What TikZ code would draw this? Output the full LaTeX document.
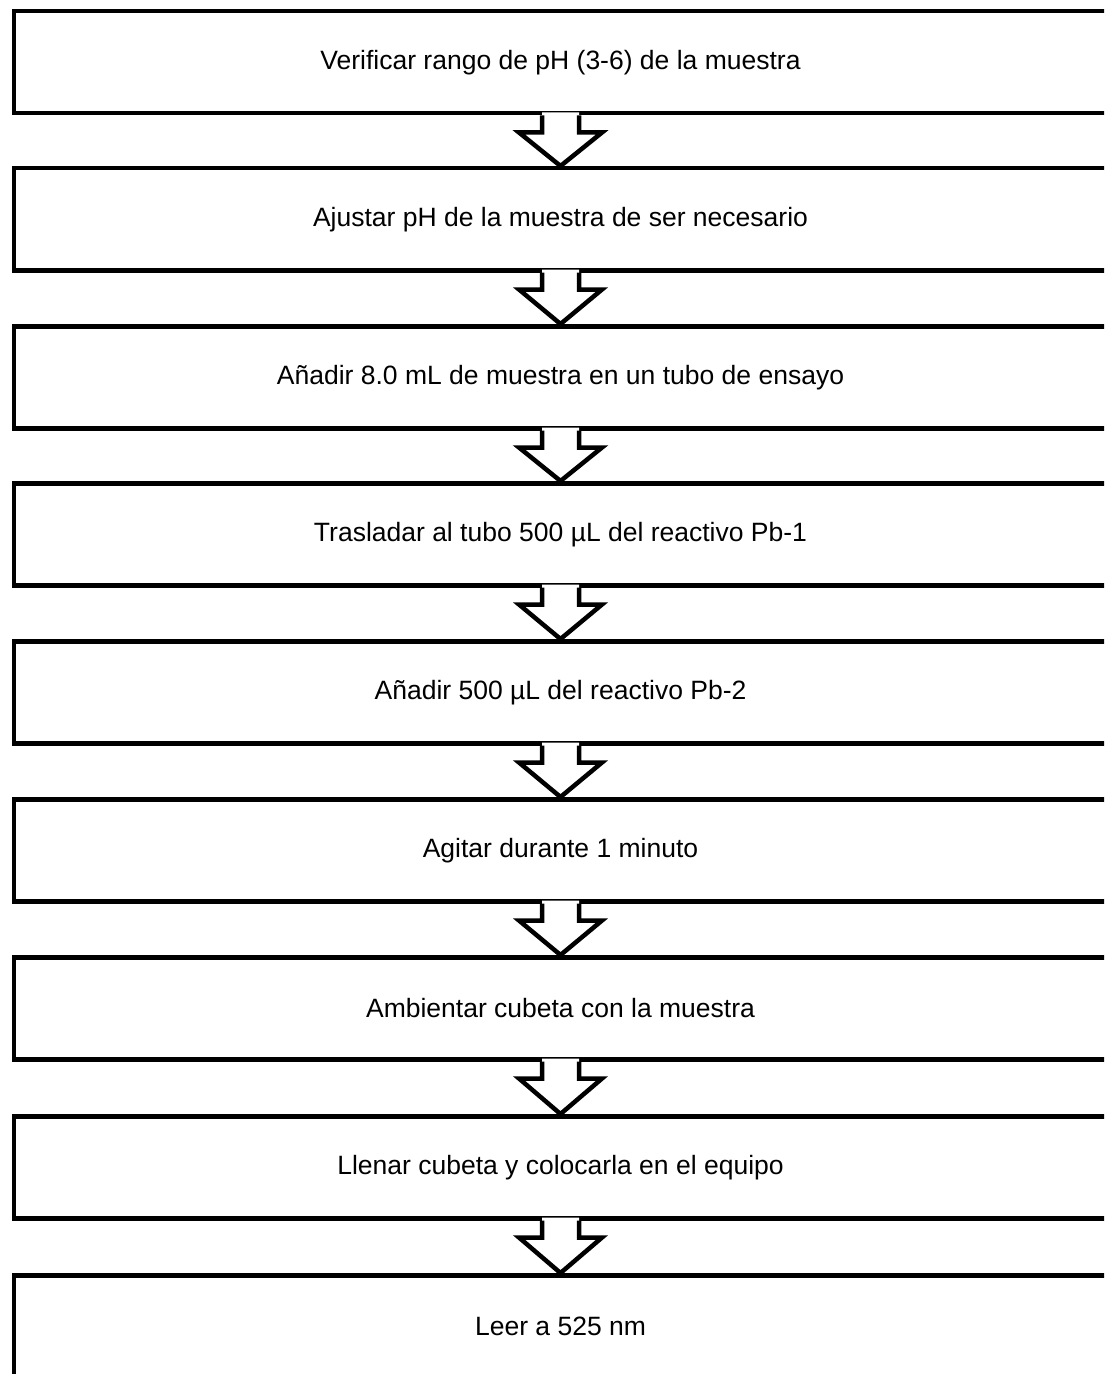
\documentclass[tikz,border=0pt]{standalone}
\usepackage{fontspec}
\setmainfont{Liberation Sans}
\usetikzlibrary{calc}
\begin{document}
\begin{tikzpicture}[x=1bp,y=-1bp,
  stepbox/.style={draw=black, line width=4.5bp, fill=white,
    minimum width=1093.5bp, minimum height=102bp, inner sep=0pt,
    anchor=north west, font=\fontsize{26.5bp}{30bp}\selectfont},
  flowline/.style={line width=4.5bp, line join=miter}]
\useasboundingbox (0,0) rectangle (1104,1374);
\clip (0,0) rectangle (1104,1374);

% process steps, top to bottom
\node[stepbox] (s1) at (11.5,9)    {Verificar rango de pH (3-6) de la muestra};
\node[stepbox] (s2) at (11.5,166)  {Ajustar pH de la muestra de ser necesario};
\node[stepbox] (s3) at (11.5,324)  {Añadir 8.0 mL de muestra en un tubo de ensayo};
\node[stepbox] (s4) at (11.5,481)  {Trasladar al tubo 500 µL del reactivo Pb-1};
\node[stepbox] (s5) at (11.5,639)  {Añadir 500 µL del reactivo Pb-2};
\node[stepbox] (s6) at (11.5,797)  {Agitar durante 1 minuto};
\node[stepbox] (s7) at (11.5,955)  {Ambientar cubeta con la muestra};
\node[stepbox] (s8) at (11.5,1114) {Llenar cubeta y colocarla en el equipo};
\node[stepbox] (s9) at (11.5,1273) {Leer a 525 nm};

% block arrows joining consecutive steps
\foreach \a/\b in {s1/s2,s2/s3,s3/s4,s4/s5,s5/s6,s6/s7,s7/s8,s8/s9}{
  \fill[white] ($(\a.south)+(-18.5,-3)$) -- ($(\a.south)+(-18.5,17)$)
    -- ($(\a.south)+(-41.5,17)$) -- (\b.north) -- ($(\a.south)+(41.5,17)$)
    -- ($(\a.south)+(18.5,17)$) -- ($(\a.south)+(18.5,-3)$) -- cycle;
  \draw[flowline] ($(\a.south)+(-18.5,0)$) -- ($(\a.south)+(-18.5,17)$)
    -- ($(\a.south)+(-41.5,17)$) -- (\b.north) -- ($(\a.south)+(41.5,17)$)
    -- ($(\a.south)+(18.5,17)$) -- ($(\a.south)+(18.5,0)$);
}
\end{tikzpicture}
\end{document}
